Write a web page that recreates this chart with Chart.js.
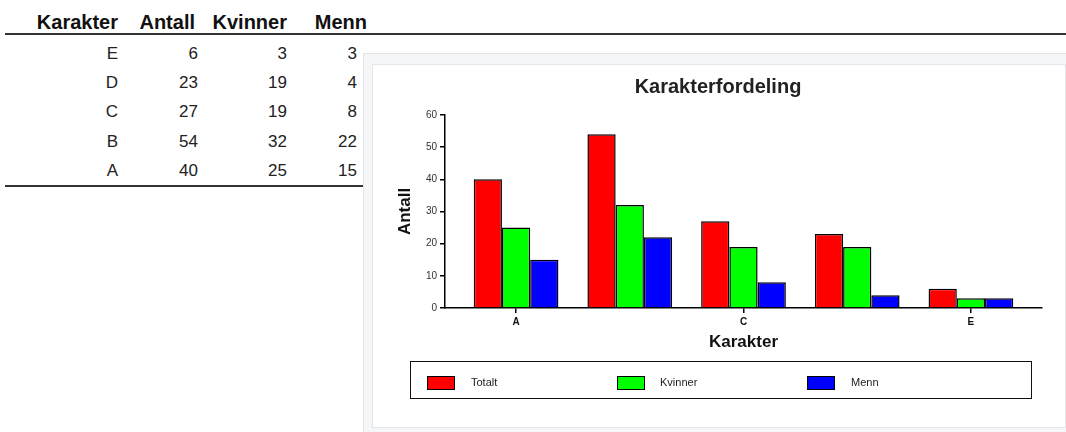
<!DOCTYPE html>
<html>
<head>
<meta charset="utf-8">
<script src="https://cdn.jsdelivr.net/npm/chart.js@4.4.0/dist/chart.umd.min.js"></script>
<style>
  html, body { margin: 0; padding: 0; background: #fff; }
  body { width: 1066px; height: 432px; position: relative; overflow: hidden; font-family: 'Liberation Sans', Arial, sans-serif; }
  .rule { position: absolute; left: 5px; right: 0; height: 2px; background: #333; }
  .cell { position: absolute; left: 0; text-align: right; white-space: nowrap; }
  .head { font-weight: bold; font-size: 20px; color: #111; line-height: 22px; }
  .val { font-size: 17px; color: #222; line-height: 20px; }
  #panel { position: absolute; left: 363px; top: 53px; right: -2px; bottom: -2px; background: #f5f6f8; border: 1px solid #e2e4e9; }
  #inner { position: absolute; left: 373px; top: 65px; width: 692px; height: 362px; background: #fff; box-shadow: 0 0 0 1px #e4e6eb; }
  #legend { position: absolute; left: 410px; top: 361px; width: 620px; height: 36px; border: 1.5px solid #111; }
  .lg-box { position: absolute; top: 14px; width: 26px; height: 12px; border: 1px solid #000; }
  .lg-text { position: absolute; top: 13px; font-size: 11px; line-height: 14px; color: #222; white-space: nowrap; }
</style>
</head>
<body>
<div class="rule" style="top:33px"></div>
<div class="rule" style="top:185px"></div>
<div id="table"></div>
<div id="panel"></div>
<div id="inner"><canvas id="chart"></canvas></div>
<div id="legend"></div>
<script>
const categories = ['A', 'B', 'C', 'D', 'E'];
const totalt = [40, 54, 27, 23, 6];
const kvinner = [25, 32, 19, 19, 3];
const menn = [15, 22, 8, 4, 3];
const seriesNames = ['Totalt', 'Kvinner', 'Menn'];
const seriesColors = ['#ff0000', '#00ff00', '#0000ff'];
const shownTicks = ['A', 'C', 'E'];
const tableHeaders = ['Karakter', 'Antall', 'Kvinner', 'Menn'];

// table to the left (rows E..A)
const table = document.getElementById('table');
const headRight = [118, 195, 287, 367];
const valRight = [118, 198, 287, 357];
tableHeaders.forEach((h, c) => {
    const d = document.createElement('div');
    d.className = 'cell head';
    d.style.top = '11px';
    d.style.width = headRight[c] + 'px';
    d.textContent = h;
    table.appendChild(d);
});
categories.slice().reverse().forEach((cat, r) => {
    const i = categories.indexOf(cat);
    const row = [cat, totalt[i], kvinner[i], menn[i]];
    row.forEach((v, c) => {
        const d = document.createElement('div');
        d.className = 'cell val';
        d.style.top = (44 + r * 29.2) + 'px';
        d.style.width = valRight[c] + 'px';
        d.textContent = v;
        table.appendChild(d);
    });
});

Chart.defaults.font.family = "'Liberation Sans', Arial, sans-serif";

// legend drawn as html from the datasets
const htmlLegend = {
    id: 'htmlLegend',
    afterUpdate(chart) {
        const box = document.getElementById('legend');
        box.innerHTML = '';
        const swatchX = [16, 206, 396];
        const textX = [60, 249, 440];
        chart.data.datasets.forEach((ds, i) => {
            const sw = document.createElement('div');
            sw.className = 'lg-box';
            sw.style.left = swatchX[i] + 'px';
            sw.style.background = ds.backgroundColor;
            const t = document.createElement('div');
            t.className = 'lg-text';
            t.style.left = textX[i] + 'px';
            t.textContent = ds.label;
            box.appendChild(sw);
            box.appendChild(t);
        });
    }
};

const series = [totalt, kvinner, menn];

new Chart(document.getElementById('chart'), {
    type: 'bar',
    data: {
        datasets: series.map((vals, k) => ({
            label: seriesNames[k],
            data: vals.map((v, i) => ({ x: i, y: v })),
            backgroundColor: seriesColors[k],
            borderColor: '#000',
            borderWidth: 1.5,
            barPercentage: 1,
            categoryPercentage: 0.745
        }))
    },
    options: {
        responsive: true,
        maintainAspectRatio: false,
        animation: false,
        layout: { padding: { left: 21, right: 23, top: 0, bottom: 74 } },
        plugins: {
            legend: { display: false },
            tooltip: { enabled: false },
            title: {
                display: true,
                text: 'Karakterfordeling',
                color: '#222',
                font: { size: 20, weight: 'bold' },
                padding: { top: 10, bottom: 16 }
            }
        },
        scales: {
            x: {
                type: 'linear',
                offset: false,
                min: -0.625,
                max: 4.625,
                afterBuildTicks: s => { s.ticks = shownTicks.map(l => ({ value: categories.indexOf(l) })); },
                afterFit: s => { s.height = 45; },
                ticks: {
                    callback: v => categories[v],
                    font: { size: 10, weight: 'bold' },
                    color: '#111',
                    padding: 3,
                    maxRotation: 0,
                    autoSkip: false
                },
                grid: { display: true, offset: false, drawOnChartArea: false, drawTicks: true, tickLength: 5, color: '#000', lineWidth: 1.5 },
                border: { display: true, color: '#000', width: 1.5 },
                title: { display: true, text: 'Karakter', color: '#111', font: { size: 17, weight: 'bold' }, padding: 0 }
            },
            y: {
                min: 0,
                max: 60,
                afterFit: s => { s.width = 51; },
                ticks: { stepSize: 10, font: { size: 10 }, color: '#333', padding: 3 },
                grid: { display: true, drawOnChartArea: false, drawTicks: true, tickLength: 5, color: '#000', lineWidth: 1.5 },
                border: { display: true, color: '#000', width: 1.5 },
                title: { display: true, text: 'Antall', color: '#111', font: { size: 17, weight: 'bold' }, padding: { top: 1, bottom: 0 } }
            }
        }
    },
    plugins: [htmlLegend]
});
</script>
</body>
</html>
